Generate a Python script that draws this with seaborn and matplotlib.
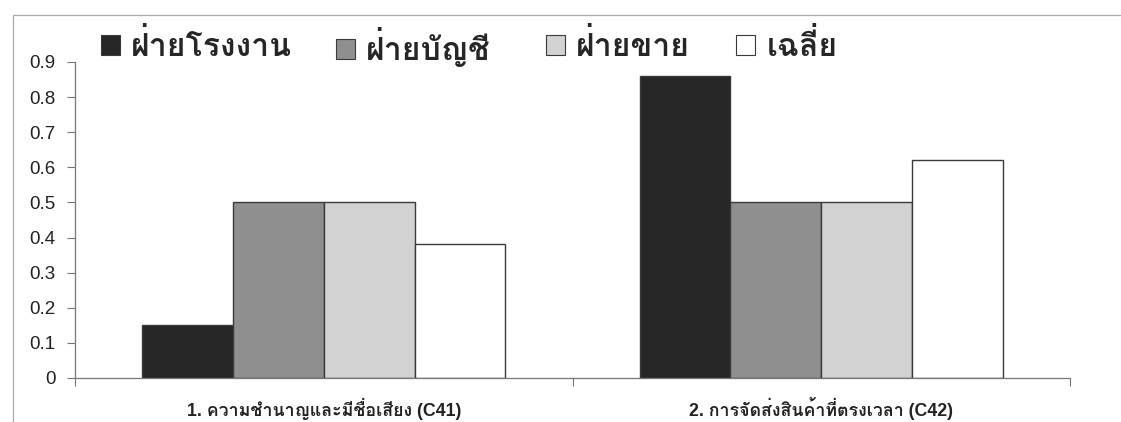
import matplotlib
matplotlib.use("Agg")
import matplotlib.pyplot as plt
from matplotlib.patches import Rectangle, Patch
import seaborn as sns
import pandas as pd

# Criteria on the x axis
criteria = ["1. ความชำนาญและมีชื่อเสียง (C41)", "2. การจัดส่งสินค้าที่ตรงเวลา (C42)"]
# Departments (series) and their scores per criterion
departments = ["ฝ่ายโรงงาน", "ฝ่ายบัญชี", "ฝ่ายขาย", "เฉลี่ย"]
factory = [0.15, 0.86]
accounting = [0.50, 0.50]
sales = [0.50, 0.50]
average = [0.383, 0.62]
y_ticks = [0, 0.1, 0.2, 0.3, 0.4, 0.5, 0.6, 0.7, 0.8, 0.9]
y_tick_labels = ["0", "0.1", "0.2", "0.3", "0.4", "0.5", "0.6", "0.7", "0.8", "0.9"]

colors = ["#262626", "#8f8f8f", "#d2d2d2", "#ffffff"]
THAI = ["Liberation Sans", "Loma"]

sns.set_theme(style="white")
plt.rcParams["font.family"] = THAI

rows = []
for dept, vals in zip(departments, [factory, accounting, sales, average]):
    for crit, v in zip(criteria, vals):
        rows.append({"criterion": crit, "department": dept, "score": v})
df = pd.DataFrame(rows)

W, H = 1121, 422
fig = plt.figure(figsize=(W / 100, H / 100), dpi=100)
ax = fig.add_axes([75 / W, 1 - 378 / H, (1070 - 75) / W, (378 - 62) / H])

sns.barplot(data=df, x="criterion", y="score", hue="department",
            order=criteria, hue_order=departments, palette=colors,
            width=0.73, gap=0, edgecolor="#3a3a3a", linewidth=1.0,
            saturation=1, legend=False, ax=ax)

ax.set_xlim(-0.5, 1.5)
ax.set_ylim(0, 0.9)
ax.set_yticks(y_ticks)
ax.set_yticklabels(y_tick_labels, fontsize=13.5)
ax.set_xlabel("")
ax.set_ylabel("")
ax.set_xticks([0, 1])
ax.set_xticklabels(criteria, fontsize=12.8, fontweight="bold")
ax.set_xticks([-0.5, 0.5, 1.5], minor=True)
ax.tick_params(axis="x", which="major", length=0, pad=14, colors="#222222")
ax.tick_params(axis="x", which="minor", length=6, width=0.8, color="#777777",
               direction="out", bottom=True)
ax.tick_params(axis="y", length=6, width=0.8, color="#777777", direction="out", pad=8,
               colors="#222222", left=True)
for side in ["top", "right"]:
    ax.spines[side].set_visible(False)
for side in ["left", "bottom"]:
    ax.spines[side].set_color("#777777")
    ax.spines[side].set_linewidth(0.9)

# Legend entries along the top of the chart area
legend_x = [101, 336, 546, 736]
for name, c, lx in zip(departments, colors, legend_x):
    h = Patch(facecolor=c, edgecolor="#3a3a3a", linewidth=0.8)
    fig.legend([h], [name], loc="center left", bbox_to_anchor=(lx / W, 1 - 47 / H),
               frameon=False, handlelength=0.6, handleheight=0.6, handletextpad=0.35,
               borderpad=0, borderaxespad=0,
               prop={"family": THAI, "size": 23, "weight": "bold"})

# Chart area border
fig.add_artist(Rectangle((13 / W, -0.1), 1.2, 1 - 15 / H + 0.1, transform=fig.transFigure,
                         fill=False, edgecolor="#aaaaaa", linewidth=0.9))

fig.savefig("out.png", dpi=100)
